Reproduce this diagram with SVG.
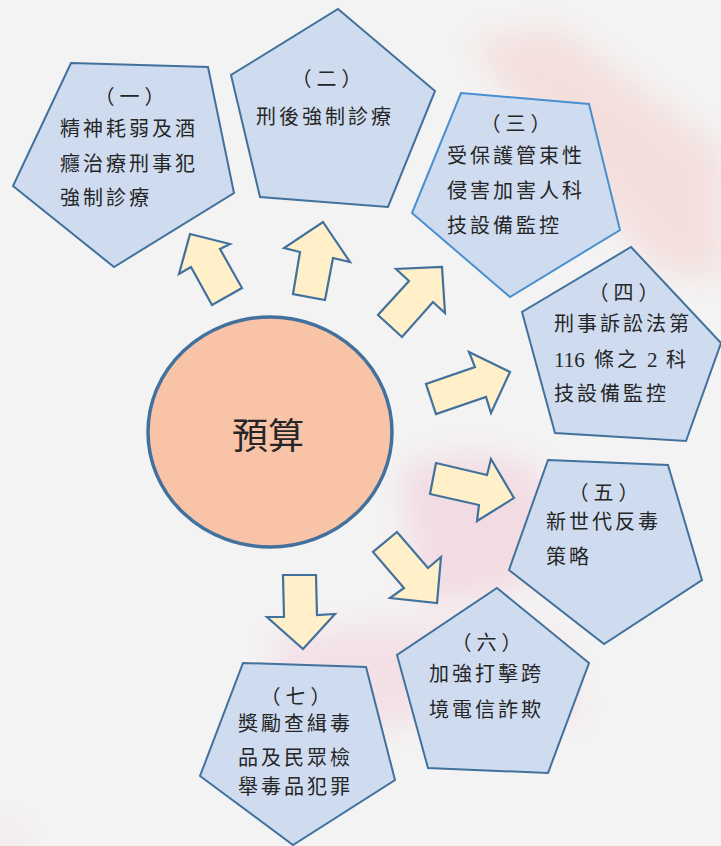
<svg xmlns="http://www.w3.org/2000/svg" width="721" height="846" viewBox="0 0 721 846">
<defs>
<filter id="blur" x="-50%" y="-50%" width="200%" height="200%"><feGaussianBlur stdDeviation="16"/></filter>
<style>
.pent{fill:#cfdcf0;stroke:#41719c;stroke-width:2;stroke-linejoin:miter}
.pent3{stroke:#4a8fcf}
.arrow{fill:#fff0c9;stroke:#41719c;stroke-width:2.2;stroke-linejoin:miter}
.t{font-family:"Noto Sans CJK TC","Noto Sans CJK SC",sans-serif;font-size:20px;fill:#262626;letter-spacing:3px}
.c{text-anchor:middle;letter-spacing:5px}
.num{font-family:"Liberation Serif",serif;font-size:21px;fill:#262626}
.big{font-family:"Noto Sans CJK TC","Noto Sans CJK SC",sans-serif;font-size:36px;fill:#262626;text-anchor:middle}
</style>
</defs>
<rect width="721" height="846" fill="#f4f3f3"/>
<g id="background" filter="url(#blur)" opacity="0.45">
<path d="M470 40 L560 30 L721 150 L721 280 L660 270 L560 160 Z" fill="#f3c6c2"/>
<path d="M400 470 Q470 440 540 470 L560 560 Q500 610 420 600 Z" fill="#f0bfcf"/>
<path d="M270 640 Q400 610 560 640 L580 720 Q420 700 290 760 Z" fill="#f2cad8"/>
<path d="M0 820 L30 846 L0 846 Z" fill="#f0b8b8"/>
</g>
<g id="connectors">
<polygon class="arrow" points="190,234 230,244 220,249 242,288 212,305 191,267 179,274"/>
<polygon class="arrow" points="323,222 350,262 333,258 325,300 293,294 300,252 284,248"/>
<polygon class="arrow" points="442,267 445,313 433,302 402,337 378,315 409,281 396,269"/>
<polygon class="arrow" points="510,372 469,352 475,367 426,384 436,414 486,397 491,413"/>
<polygon class="arrow" points="514,498 491,459 487,475 436,463 430,494 479,505 477,521"/>
<polygon class="arrow" points="437,603 441,557 428,568 397,532 373,552 404,588 390,598"/>
<polygon class="arrow" points="303,649 335,614 317,615 316,575 283,575 284,617 267,617"/>
</g>
<g id="node-center">
<ellipse cx="270" cy="432" rx="122" ry="115" fill="#f8c3a6" stroke="#41719c" stroke-width="3.5"/>
<text class="big" x="268" y="449">預算</text>
</g>
<g id="node-1">
<polygon class="pent" points="71,63 208,67 234,193 114,267 13,186"/>
<text class="t c" x="132" y="104">（一）</text>
<text class="t" x="60" y="136">精神耗弱及酒</text>
<text class="t" x="60" y="171">癮治療刑事犯</text>
<text class="t" x="60" y="205">強制診療</text>
</g>
<g id="node-2">
<polygon class="pent" points="338,9 435,91 388,207 260,197 231,75"/>
<text class="t c" x="329" y="86">（二）</text>
<text class="t" x="256" y="124">刑後強制診療</text>
</g>
<g id="node-3">
<polygon class="pent pent3" points="461,93 589,104 620,230 510,297 412,213"/>
<text class="t c" x="518" y="131">（三）</text>
<text class="t" x="447" y="163">受保護管束性</text>
<text class="t" x="447" y="198">侵害加害人科</text>
<text class="t" x="447" y="233">技設備監控</text>
</g>
<g id="node-4">
<polygon class="pent" points="631,247 721,343 686,441 555,433 522,312"/>
<text class="t c" x="626" y="300">（四）</text>
<text class="t" x="554" y="331">刑事訴訟法第</text>
<text class="num" x="554" y="367">116</text>
<text class="t" x="594" y="367">條之</text>
<text class="num" x="647" y="367">2</text>
<text class="t" x="666" y="367">科</text>
<text class="t" x="554" y="401">技設備監控</text>
</g>
<g id="node-5">
<polygon class="pent" points="548,460 668,465 702,580 604,644 509,570"/>
<text class="t c" x="606" y="500">（五）</text>
<text class="t" x="546" y="529">新世代反毒</text>
<text class="t" x="546" y="564">策略</text>
</g>
<g id="node-6">
<polygon class="pent" points="497,588 589,663 548,773 428,768 397,655"/>
<text class="t c" x="489" y="650">（六）</text>
<text class="t" x="429" y="681">加強打擊跨</text>
<text class="t" x="429" y="717">境電信詐欺</text>
</g>
<g id="node-7">
<polygon class="pent" points="243,663 366,667 395,780 293,845 200,776"/>
<text class="t c" x="298" y="704">（七）</text>
<text class="t" x="238" y="731">獎勵查緝毒</text>
<text class="t" x="238" y="765">品及民眾檢</text>
<text class="t" x="238" y="794">舉毒品犯罪</text>
</g>
</svg>
